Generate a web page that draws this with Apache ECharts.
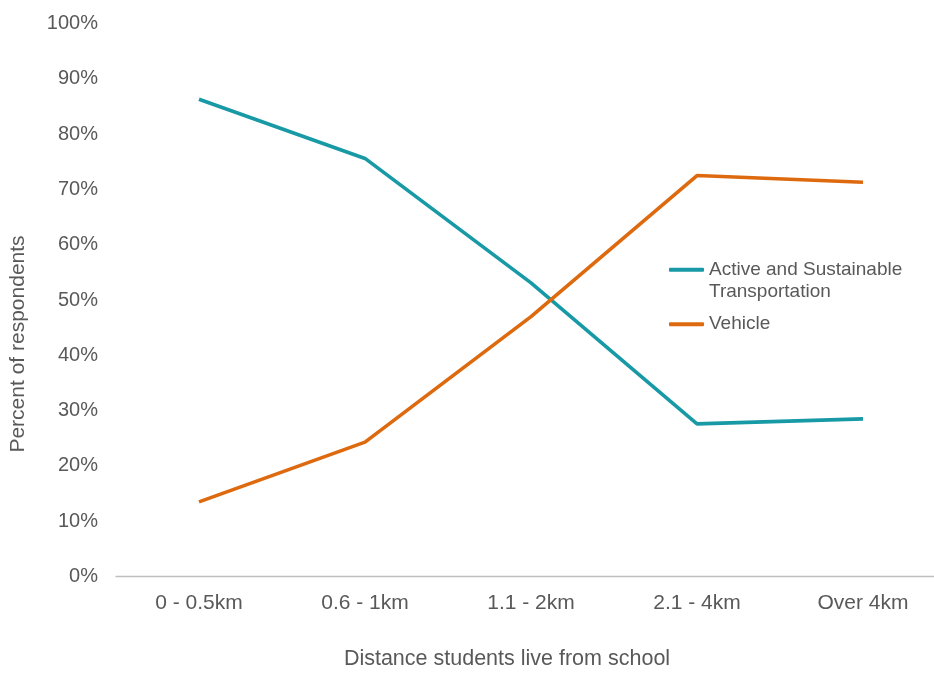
<!DOCTYPE html>
<html>
<head>
<meta charset="utf-8">
<script src="https://cdn.jsdelivr.net/npm/echarts@6/dist/echarts.min.js"></script>
<style>
html,body{margin:0;padding:0;background:#fff;}
#chart{width:934px;height:673px;}
</style>
</head>
<body>
<div id="chart"></div>
<script>
const categories = ['0 - 0.5km', '0.6 - 1km', '1.1 - 2km', '2.1 - 4km', 'Over 4km'];
const activeSustainable = [86.3, 75.6, 53.1, 27.6, 28.5];
const vehicle = [13.5, 24.3, 47.0, 72.5, 71.3];
const seriesNames = ['Active and Sustainable\nTransportation', 'Vehicle'];
const xAxisTitle = 'Distance students live from school';
const yAxisTitle = 'Percent of respondents';

const textColor = '#595959';
const font = 'Liberation Sans, Arial, sans-serif';

const chart = echarts.init(document.getElementById('chart'));
chart.setOption({
  animation: false,
  backgroundColor: '#ffffff',
  grid: { left: 116, top: 23.5, width: 830, height: 553, containLabel: false, outerBoundsMode: 'none' },
  legend: {
    orient: 'vertical',
    left: 669,
    top: 236,
    padding: 0,
    icon: 'roundRect',
    itemWidth: 35,
    itemHeight: 4,
    itemGap: 9.4,
    textStyle: { fontFamily: font, fontSize: 19, color: textColor, lineHeight: 22.5 },
    formatter: function (name) { return name === seriesNames[0] ? '\n' + name : name; },
    data: seriesNames
  },
  xAxis: {
    type: 'category',
    data: categories,
    boundaryGap: true,
    axisLine: { lineStyle: { color: '#BFBFBF', width: 1.3 } },
    axisTick: { show: false },
    axisLabel: { fontFamily: font, fontSize: 21, color: textColor, margin: 16 },
    name: xAxisTitle,
    nameLocation: 'middle',
    nameGap: 72,
    nameTextStyle: { fontFamily: font, fontSize: 21.5, color: textColor, padding: [0, 48, 0, 0] }
  },
  yAxis: {
    type: 'value',
    min: 0,
    max: 100,
    interval: 10,
    splitLine: { show: false },
    axisLine: { show: false },
    axisTick: { show: false },
    axisLabel: { fontFamily: font, fontSize: 20, color: textColor, margin: 18, formatter: '{value}%' },
    name: yAxisTitle,
    nameLocation: 'middle',
    nameGap: 87,
    nameTextStyle: { fontFamily: font, fontSize: 21, color: textColor, padding: [0, 88, 0, 0] }
  },
  series: [
    {
      name: seriesNames[0],
      type: 'line',
      data: activeSustainable,
      symbol: 'none',
      color: '#1799A6',
      lineStyle: { color: '#1799A6', width: 3.6 }
    },
    {
      name: seriesNames[1],
      type: 'line',
      data: vehicle,
      symbol: 'none',
      color: '#DE6A10',
      lineStyle: { color: '#DE6A10', width: 3.6 }
    }
  ]
});
</script>
</body>
</html>
